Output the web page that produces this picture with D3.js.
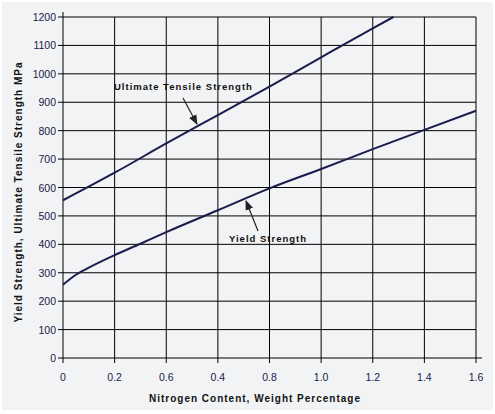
<!DOCTYPE html>
<html><head><meta charset="utf-8">
<script src="https://cdn.jsdelivr.net/npm/d3@7"></script>
<style>body{margin:0;background:#fff}svg{display:block}</style>
</head><body>
<svg id="chart"></svg>
<script>
const xTicks = [0, 0.2, 0.4, 0.6, 0.8, 1.0, 1.2, 1.4, 1.6];
const xTickLabels = ["0", "0.2", "0.6", "0.4", "0.8", "1.0", "1.2", "1.4", "1.6"];
const yTicks = [0, 100, 200, 300, 400, 500, 600, 700, 800, 900, 1000, 1100, 1200];
const utsX = [0, 0.2, 0.4, 0.6, 0.8, 1.0, 1.2, 1.28];
const utsY = [555, 652, 755, 855, 955, 1058, 1160, 1200];
const ysX = [0, 0.05, 0.1, 0.2, 0.3, 0.4, 0.6, 0.8, 1.0, 1.2, 1.4, 1.6];
const ysY = [258, 293, 318, 362, 402, 443, 520, 597, 665, 735, 803, 870];

const W = 495, H = 414;
const svg = d3.select("#chart").attr("width", W).attr("height", H);
svg.append("rect").attr("x", 2).attr("y", 2).attr("width", W - 4).attr("height", H - 6)
  .attr("fill", "#f2f3f5");

const x = d3.scaleLinear().domain([0, 1.6]).range([63, 476]);
const y = d3.scaleLinear().domain([0, 1200]).range([358, 17]);
const ink = "#1e1a4e";
const font = "Liberation Sans, Arial, sans-serif";
const g = svg.append("g");

// grid
g.selectAll(".hg").data(yTicks).join("line")
  .attr("x1", x(0) - 5).attr("x2", d => d === 0 ? 482 : x(1.6))
  .attr("y1", d => y(d)).attr("y2", d => y(d))
  .attr("stroke", "#000").attr("stroke-width", 1);
g.selectAll(".vg").data(xTicks).join("line")
  .attr("x1", d => x(d)).attr("x2", d => x(d))
  .attr("y1", d => d === 0 ? 12 : y(1200)).attr("y2", y(0) + 5)
  .attr("stroke", "#000").attr("stroke-width", 1);

// tick labels
g.selectAll(".yl").data(yTicks).join("text")
  .attr("x", x(0) - 7).attr("y", d => y(d) + 4).attr("text-anchor", "end")
  .attr("font-family", font).attr("font-size", 10.5)
  .attr("fill", "#1a1a4a").text(d => d);
g.selectAll(".xl").data(xTicks).join("text")
  .attr("x", d => x(d)).attr("y", 381).attr("text-anchor", "middle")
  .attr("font-family", font).attr("font-size", 10.5)
  .attr("fill", "#1a1a4a").text((d, i) => xTickLabels[i]);

// axis titles
svg.append("text").attr("x", 255).attr("y", 402).attr("text-anchor", "middle")
  .attr("font-family", font).attr("font-size", 10)
  .attr("font-weight", "bold").attr("letter-spacing", 1).attr("fill", "#111")
  .text("Nitrogen Content, Weight Percentage");
svg.append("text").attr("transform", "translate(22,192) rotate(-90)").attr("text-anchor", "middle")
  .attr("font-family", font).attr("font-size", 10)
  .attr("font-weight", "bold").attr("letter-spacing", 1).attr("fill", "#111")
  .text("Yield Strength, Ultimate Tensile Strength  MPa");

// curves
const line = d3.line().x(d => x(d[0])).y(d => y(d[1])).curve(d3.curveMonotoneX);
[[utsX, utsY], [ysX, ysY]].forEach(([xs, ys]) => {
  g.append("path").datum(xs.map((v, i) => [v, ys[i]]))
    .attr("d", line).attr("fill", "none").attr("stroke", ink).attr("stroke-width", 2);
});

// annotations
svg.append("defs").append("marker").attr("id", "ah").attr("viewBox", "0 0 10 10")
  .attr("refX", 9).attr("refY", 5).attr("markerWidth", 10).attr("markerHeight", 10)
  .attr("markerUnits", "userSpaceOnUse")
  .attr("orient", "auto").append("path").attr("d", "M0,1 L10,5 L0,9 z").attr("fill", "#222");
const notes = [
  { t: "Ultimate Tensile Strength", tx: 114, ty: 90, ax: [183, 98], ah: [197, 124] },
  { t: "Yield Strength", tx: 229, ty: 242, ax: [258, 231], ah: [246, 201] }
];
notes.forEach(n => {
  svg.append("text").attr("x", n.tx).attr("y", n.ty)
    .attr("font-family", font).attr("font-size", 9.5)
    .attr("font-weight", "bold").attr("letter-spacing", 1).attr("fill", "#111").text(n.t);
  svg.append("line").attr("x1", n.ax[0]).attr("y1", n.ax[1]).attr("x2", n.ah[0]).attr("y2", n.ah[1])
    .attr("stroke", "#222").attr("stroke-width", 1.2).attr("marker-end", "url(#ah)");
});
</script>
</body></html>
